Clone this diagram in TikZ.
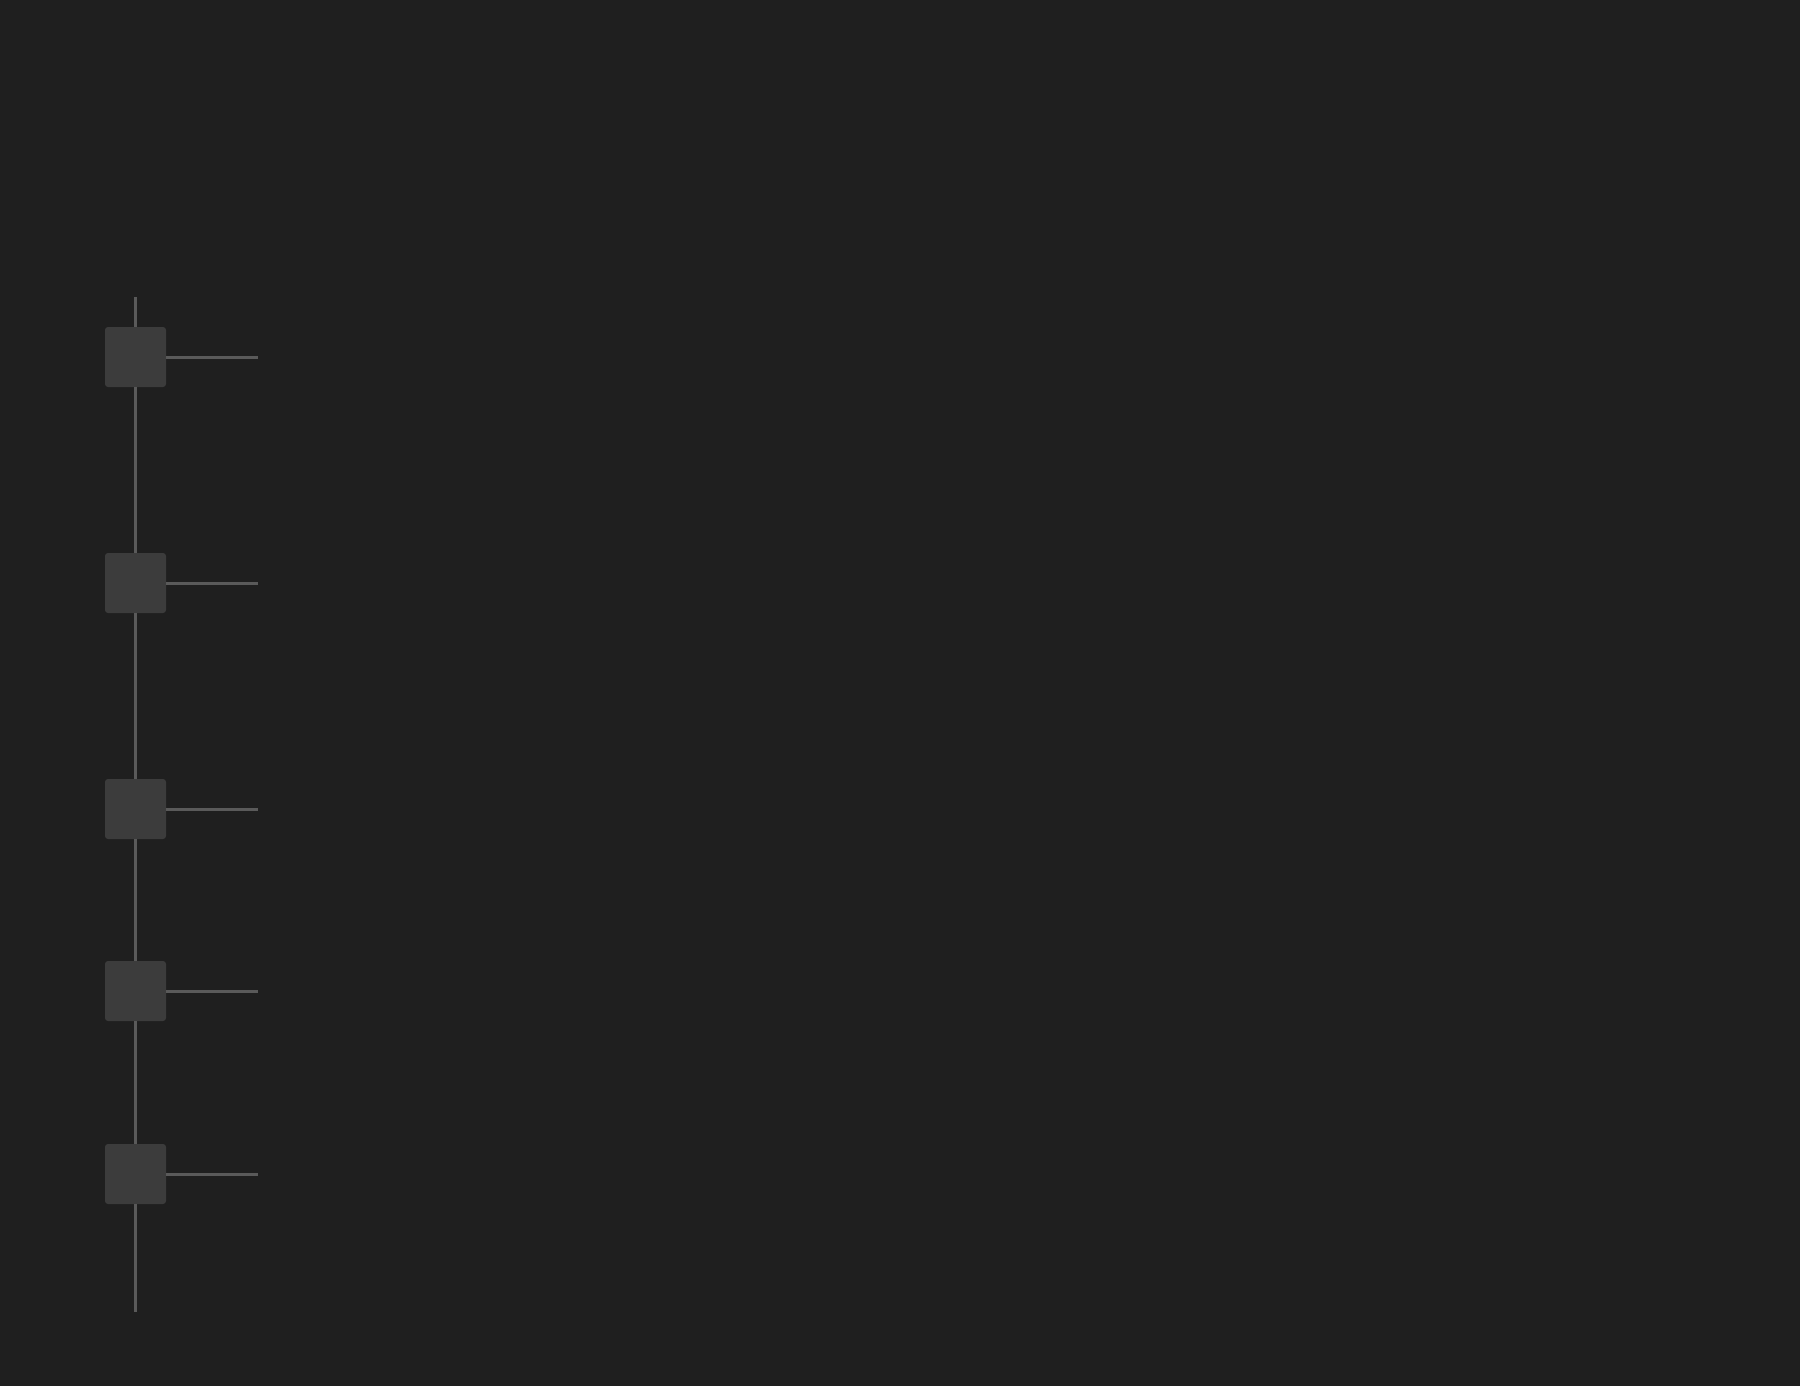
\documentclass[tikz,border=0pt]{standalone}
\begin{document}
\begin{tikzpicture}[x=1pt,y=-1pt,
  sq/.style={fill=sqfill, minimum width=61pt, minimum height=60pt, inner sep=0pt, rounded corners=3pt, draw=none},
  ln/.style={draw=linec, line width=3pt}]
\definecolor{bg}{HTML}{1F1F1F}
\definecolor{sqfill}{HTML}{3C3C3C}
\definecolor{linec}{HTML}{5A5A5A}
\fill[bg] (0,0) rectangle (1800,1386);
\useasboundingbox (0,0) rectangle (1800,1386);
\coordinate (top) at (135.5,297);
\coordinate (bot) at (135.5,1312);
\node[sq] (s1) at (135.5,357) {};
\node[sq] (s2) at (135.5,583) {};
\node[sq] (s3) at (135.5,809) {};
\node[sq] (s4) at (135.5,991) {};
\node[sq] (s5) at (135.5,1174) {};
\coordinate (e1) at (257.5,357);
\coordinate (e2) at (257.5,583);
\coordinate (e3) at (257.5,809);
\coordinate (e4) at (257.5,991);
\coordinate (e5) at (257.5,1174);
\begin{scope}[on background layer/.style={}]
\draw[ln] (top) -- (s1.north);
\draw[ln] (s1.south) -- (s2.north);
\draw[ln] (s2.south) -- (s3.north);
\draw[ln] (s3.south) -- (s4.north);
\draw[ln] (s4.south) -- (s5.north);
\draw[ln] (s5.south) -- (bot);
\foreach \i in {1,...,5} {\draw[ln] (s\i.east) -- (e\i);}
\end{scope}
\end{tikzpicture}
\end{document}
